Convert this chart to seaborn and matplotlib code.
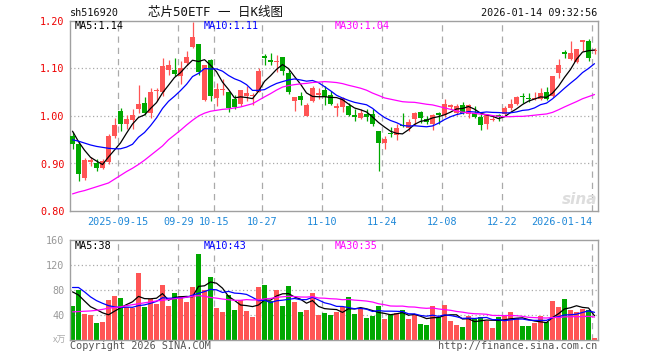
"""
芯片50ETF 日K线图 (sh516920) - 仿新浪财经K线样式
"""

import numpy as np
import pandas as pd
import matplotlib
matplotlib.use("Agg")
import matplotlib.pyplot as plt
import matplotlib.transforms as mtransforms
import seaborn as sns

# 交易日 (2025-09-03 ~ 2026-01-14, 去掉国庆和元旦假期)
holidays = ['2025-10-01', '2025-10-02', '2025-10-03', '2025-10-06',
            '2025-10-07', '2025-10-08', '2026-01-01', '2026-01-02']
tick_dates = ['2025-09-15', '2025-09-29', '2025-10-15', '2025-10-27', '2025-11-10',
              '2025-11-24', '2025-12-08', '2025-12-22', '2026-01-14']
tick_labels = ['2025-09-15', '09-29', '10-15', '10-27', '11-10',
               '11-24', '12-08', '12-22', '2026-01-14']

# K线数据 (开/高/低/收)
opens = [0.958, 0.942, 0.870, 0.904, 0.900, 0.891, 0.904, 0.958, 1.010, 0.983,
         0.991, 1.014, 1.028, 1.006, 1.053, 1.051, 1.0976, 1.0976, 1.085, 1.1115,
         1.146, 1.151, 1.033, 1.1185, 1.038, 1.054, 1.051, 1.035, 1.026, 1.043,
         1.0425, 1.051, 1.127, 1.118, 1.113, 1.124, 1.0906, 1.031, 1.042, 1.000,
         1.031, 1.045, 1.054, 1.044, 1.0174, 1.019, 1.022, 1.0014, 0.9965, 1.005,
         1.005, 0.9686, 0.944, 0.965, 0.960, 0.981, 0.974, 0.993, 1.009, 0.9944,
         0.984, 1.007, 1.002, 1.020, 1.007, 1.023, 1.005, 1.007, 0.998, 0.9826,
         0.991, 1.002, 1.0035, 1.016, 1.026, 1.041, 1.037, 1.036, 1.035, 1.051,
         1.042, 1.0906, 1.134, 1.1206, 1.1136, 1.1554, 1.157, 1.137]
highs = [0.967, 0.945, 0.912, 0.914, 0.909, 0.909, 0.962, 0.9965, 1.017, 1.002,
         1.014, 1.066, 1.040, 1.058, 1.058, 1.122, 1.118, 1.122, 1.115, 1.136,
         1.197, 1.152, 1.108, 1.120, 1.070, 1.077, 1.052, 1.045, 1.054, 1.063,
         1.049, 1.101, 1.130, 1.132, 1.1275, 1.125, 1.0976, 1.040, 1.051, 1.028,
         1.063, 1.059, 1.063, 1.052, 1.028, 1.040, 1.028, 1.014, 1.014, 1.014,
         1.014, 0.969, 0.958, 0.977, 0.984, 1.007, 0.993, 1.009, 1.010, 1.000,
         1.005, 1.008, 1.035, 1.026, 1.026, 1.030, 1.026, 1.021, 1.007, 1.0035,
         1.000, 1.005, 1.021, 1.035, 1.042, 1.049, 1.049, 1.051, 1.059, 1.061,
         1.085, 1.1206, 1.139, 1.158, 1.1415, 1.161, 1.162, 1.143]
lows = [0.930, 0.864, 0.866, 0.895, 0.885, 0.889, 0.899, 0.953, 0.969, 0.972,
        0.972, 1.007, 1.003, 0.995, 1.031, 1.042, 1.087, 1.084, 1.068, 1.108,
        1.144, 1.087, 1.031, 1.031, 1.021, 1.045, 1.008, 1.014, 1.021, 1.031,
        1.023, 1.051, 1.108, 1.108, 1.093, 1.087, 1.047, 1.010, 1.023, 0.999,
        1.030, 1.035, 1.023, 1.023, 1.000, 1.009, 1.001, 0.9895, 0.993, 0.9895,
        0.979, 0.8836, 0.930, 0.955, 0.949, 0.977, 0.969, 0.981, 0.986, 0.9826,
        0.970, 0.984, 0.998, 1.014, 1.002, 1.0035, 0.995, 0.9965, 0.970, 0.972,
        0.9895, 0.9895, 1.002, 1.012, 1.023, 1.028, 1.030, 1.033, 1.033, 1.033,
        1.040, 1.080, 1.123, 1.1185, 1.1115, 1.137, 1.115, 1.130]
closes = [0.942, 0.877, 0.908, 0.908, 0.891, 0.905, 0.957, 0.981, 0.983, 0.993,
          1.002, 1.026, 1.007, 1.051, 1.055, 1.1045, 1.1066, 1.0885, 1.102, 1.124,
          1.166, 1.093, 1.108, 1.043, 1.056, 1.0565, 1.016, 1.019, 1.054, 1.049,
          1.0446, 1.094, 1.123, 1.113, 1.116, 1.0955, 1.051, 1.040, 1.033, 1.023,
          1.059, 1.048, 1.040, 1.026, 1.021, 1.037, 1.002, 0.9986, 1.007, 0.998,
          0.984, 0.944, 0.951, 0.963, 0.9756, 0.978, 0.988, 1.007, 0.995, 0.9875,
          1.002, 1.002, 1.026, 1.023, 1.021, 1.007, 1.023, 0.998, 0.981, 1.002,
          0.993, 0.9986, 1.0174, 1.026, 1.040, 1.039, 1.035, 1.038, 1.049, 1.035,
          1.0836, 1.108, 1.131, 1.1324, 1.1415, 1.160, 1.122, 1.139]

# 成交量 (万)
volumes = [54.4, 80, 41.6, 40, 27.2, 28.8, 64, 70.4, 67.2, 52.8,
           51.2, 107.2, 52.8, 65.6, 57.6, 88, 54.4, 75.2, 70.4, 60.8,
           84.8, 137.6, 80, 100.8, 51.2, 44.8, 72, 48, 64, 46.4,
           36.8, 84.8, 88, 62.4, 80, 54.4, 86.4, 60.8, 44.8, 48,
           75.2, 40, 43.2, 40, 45.3, 52.3, 69.3, 41.6, 50.7, 35.7,
           38.4, 54.4, 33.6, 40, 43.2, 48, 33.6, 40, 25.6, 24,
           54.4, 36.3, 56, 30.9, 24, 20.8, 38.4, 33.1, 36.8, 30.4,
           19.2, 36.8, 38.4, 44.8, 35.2, 22.4, 22.4, 27.2, 38.4, 28.8,
           62.9, 52.8, 65.6, 48, 44.8, 49.6, 48, 3.7]

# 均线起始段 (窗口不满, 从图上读取)
ma5_head = [0.968, 0.946, 0.928, 0.913]
ma10_head = [0.950, 0.947, 0.943, 0.939, 0.936, 0.934, 0.932, 0.931, 0.931]
ma30_head = [0.836, 0.840, 0.843, 0.847, 0.851, 0.855, 0.859, 0.867, 0.875, 0.883,
             0.890, 0.898, 0.907, 0.917, 0.927, 0.937, 0.950, 0.960, 0.970, 0.981,
             0.991, 1.000, 1.006, 1.010, 1.012, 1.014, 1.015, 1.017, 1.019]
vma5_head = [77, 72, 62.4, 53.3]
vma10_head = [84, 84, 77, 69, 63, 58.7, 55, 53, 52]
vma30_head = [45, 45.5, 46, 46.5, 47.5, 49, 51, 52, 53, 55,
              56.5, 58, 59.5, 61, 62.5, 63.5, 65, 66, 67, 68.5,
              70, 71, 70, 68, 67, 65.5, 64.5, 63.5, 63.5]

ma_labels = ['MA5:1.14', 'MA10:1.11', 'MA30:1.04']
vma_labels = ['MA5:38', 'MA10:43', 'MA30:35']

RED = '#ff5555'
GREEN = '#00a800'
GRID = '#aaaaaa'
FRAME = '#a0a0a0'
MA_COLORS = ['black', '#0000ff', '#ff00ff']

W, H = 660, 360


def moving_average(values, window, head):
    s = pd.Series(values, dtype=float).rolling(window).mean()
    s.iloc[:len(head)] = head
    return s.values


def ftxt(fig, x, y, s, **kw):
    # 以像素坐标放置文字
    fig.text(x / W, 1 - y / H, s, **kw)


def main():
    sns.set_style("white")
    plt.rcParams['font.family'] = ['DejaVu Sans Mono', 'Noto Sans CJK SC']

    days = pd.bdate_range('2025-09-03', '2026-01-14')
    days = days[~days.isin(pd.to_datetime(holidays))]
    idx = np.arange(len(days))
    o, h, l, c = map(np.array, (opens, highs, lows, closes))
    up = c >= o
    colors = np.where(up, RED, GREEN)

    fig = plt.figure(figsize=(W / 100, H / 100), dpi=100)
    ax = fig.add_axes([70 / W, 1 - 211 / H, 527.5 / W, 190 / H])
    axv = fig.add_axes([70 / W, 1 - 340 / H, 527.5 / W, 100 / H])

    xmin, xmax = -0.42, 87.5
    grid_x = [days.get_loc(pd.Timestamp(d)) - 0.37 for d in tick_dates]

    # 网格
    for a, levels in ((ax, [0.9, 1.0, 1.1]), (axv, [40, 80, 120])):
        for g in grid_x:
            a.axvline(g, color=GRID, lw=0.9, ls=(0, (5, 4)), zorder=0)
        for y in levels:
            a.axhline(y, color=GRID, lw=0.9, ls=(0, (1, 2)), zorder=0)

    # K线
    ax.vlines(idx, l, h, colors=colors, lw=0.9, zorder=2)
    body = np.maximum(np.abs(c - o), 0.0022)
    ax.bar(idx, body, bottom=np.minimum(o, c), width=0.83, color=colors,
           linewidth=0, zorder=3)

    ma_lines = [moving_average(closes, 5, ma5_head),
                moving_average(closes, 10, ma10_head),
                moving_average(closes, 30, ma30_head)]
    for ma, col in zip(ma_lines, MA_COLORS):
        sns.lineplot(x=idx, y=ma, color=col, lw=0.9, ax=ax, zorder=4)

    # 成交量
    vol_df = pd.DataFrame({'idx': idx, 'vol': volumes,
                           'dir': np.where(up, 'up', 'down')})
    sns.barplot(data=vol_df, x='idx', y='vol', hue='dir',
                palette={'up': RED, 'down': GREEN}, native_scale=True,
                dodge=False, width=0.83, saturation=1, errorbar=None,
                legend=False, linewidth=0, ax=axv, zorder=2)
    vma_lines = [moving_average(volumes, 5, vma5_head),
                 moving_average(volumes, 10, vma10_head),
                 moving_average(volumes, 30, vma30_head)]
    for ma, col in zip(vma_lines, MA_COLORS):
        sns.lineplot(x=idx, y=ma, color=col, lw=0.9, ax=axv, zorder=4)

    ax.set_xlim(xmin, xmax)
    ax.set_ylim(0.80, 1.20)
    axv.set_xlim(xmin, xmax)
    axv.set_ylim(0, 160)

    ax.set_yticks([0.80, 0.90, 1.00, 1.10, 1.20])
    ax.set_yticklabels(['0.80', '0.90', '1.00', '1.10', '1.20'],
                       color='#ee0000', fontsize=7.3)
    axv.set_yticks([40, 80, 120, 160])
    axv.set_yticklabels(['40', '80', '120', '160'], color='#999999', fontsize=7.3)
    for a in (ax, axv):
        a.set_xticks([])
        a.set_xlabel('')
        a.set_ylabel('')
        a.tick_params(axis='y', length=0, pad=4)
        for sp in a.spines.values():
            sp.set_color(FRAME)
            sp.set_linewidth(1)

    # 日期标签
    trans = mtransforms.blended_transform_factory(ax.transData, ax.transAxes)
    for i, (g, lab) in enumerate(zip(grid_x, tick_labels)):
        ha = 'right' if i == len(tick_labels) - 1 else 'center'
        ax.text(g, -11 / 190, lab, transform=trans, ha=ha, va='center',
                color='#1e88d8', fontsize=7.3)

    # 文字
    ftxt(fig, 70, 13, 'sh516920', fontsize=7.3, va='center', color='#111111')
    ftxt(fig, 216, 12, '芯片50ETF 一 日K线图', fontsize=9, ha='center',
         va='center', color='#111111')
    ftxt(fig, 597, 13, '2026-01-14 09:32:56', fontsize=7.3, ha='right',
         va='center', color='#111111')
    for x, lab, col in zip([75, 204, 335], ma_labels, MA_COLORS):
        ftxt(fig, x, 26, lab, fontsize=7.3, va='center', color=col)
    for x, lab, col in zip([75, 204, 335], vma_labels, MA_COLORS):
        ftxt(fig, x, 246, lab, fontsize=7.3, va='center', color=col)
    ftxt(fig, 70, 346, 'Copyright 2026 SINA.COM', fontsize=7.3, va='center',
         color='#555555')
    ftxt(fig, 597, 346, 'http://finance.sina.com.cn', fontsize=7.3, ha='right',
         va='center', color='#555555')
    ftxt(fig, 66, 340, 'x万', fontsize=6.5, ha='right', va='center',
         color='#aaaaaa', family=['Noto Sans CJK SC', 'DejaVu Sans'])
    ftxt(fig, 580, 200, 'sina', fontsize=11, ha='center', va='center',
         color='#dddddd', style='italic', weight='bold',
         family=['DejaVu Sans'])

    fig.savefig('out.png', dpi=100)
    plt.close(fig)


if __name__ == "__main__":
    main()
